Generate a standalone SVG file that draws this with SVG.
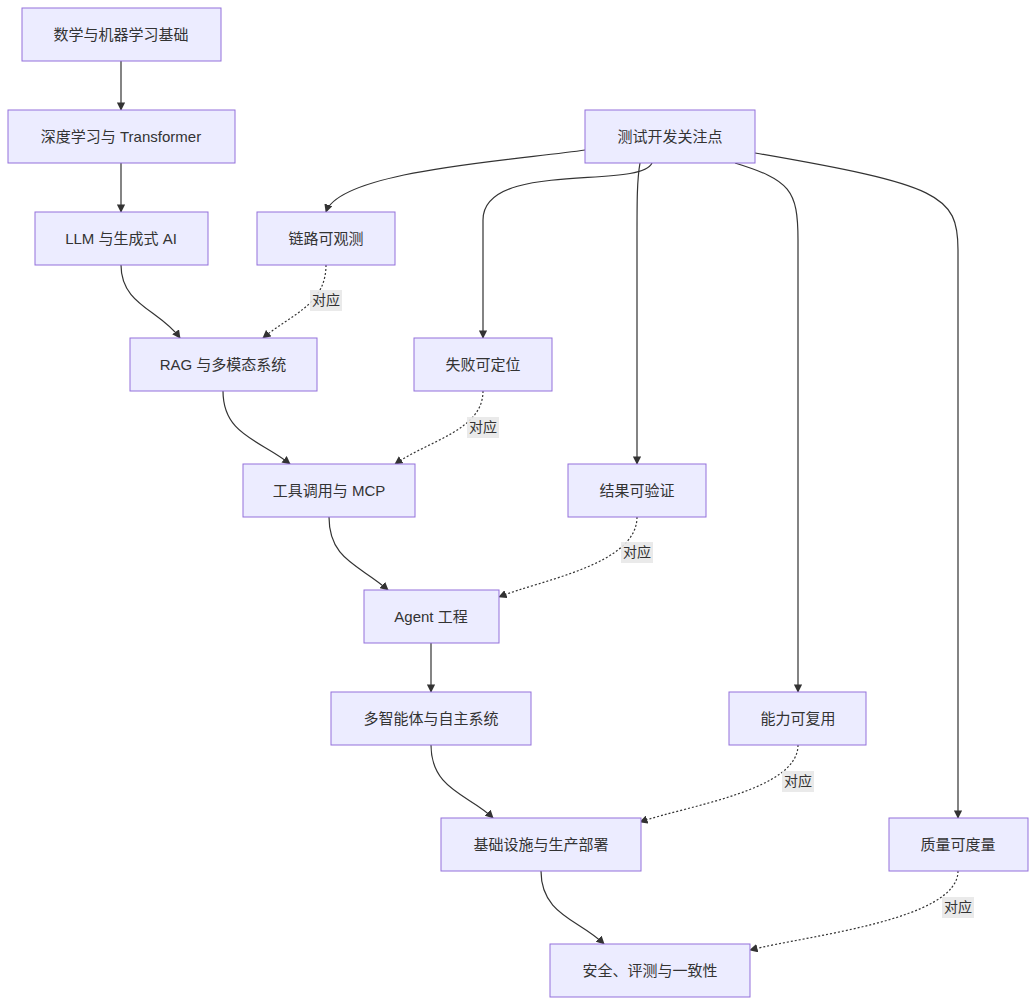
<svg xmlns="http://www.w3.org/2000/svg" width="1036" height="1006" viewBox="0 0 1036 1006">
<style>
.n rect{fill:#ECECFF;stroke:#9370DB;stroke-width:1}
.n text{font-family:"Liberation Sans","Noto Sans CJK SC",sans-serif;font-size:15px;fill:#333;text-anchor:middle;dominant-baseline:central}
.e path{fill:none;stroke:#333;stroke-width:1.2}
.e path.d{stroke-dasharray:2 2}
.l rect{fill:#e8e8e8;opacity:0.9}
.l text{font-family:"Liberation Sans","Noto Sans CJK SC",sans-serif;font-size:14px;fill:#333;text-anchor:middle;dominant-baseline:central}
</style>
<defs><marker id="a" viewBox="0 0 10 10" refX="9" refY="5" markerWidth="7" markerHeight="7" orient="auto"><path d="M0,0L10,5L0,10z" fill="#333"/></marker></defs>
<rect width="1036" height="1006" fill="#fff"/>
<g class="e">
<path d="M121,61V110" marker-end="url(#a)"/>
<path d="M121,163V212" marker-end="url(#a)"/>
<path d="M121,265C121,305 160,310 180,338" marker-end="url(#a)"/>
<path class="d" d="M326,265C326,305 290,315 263,338" marker-end="url(#a)"/>
<path d="M223,391C223,435 260,440 290,464" marker-end="url(#a)"/>
<path class="d" d="M483,391C483,430 430,440 395,464" marker-end="url(#a)"/>
<path d="M329,517C329,560 360,565 388,590" marker-end="url(#a)"/>
<path class="d" d="M637,517C637,565 540,580 499,597" marker-end="url(#a)"/>
<path d="M431,643V692" marker-end="url(#a)"/>
<path d="M431,745C431,790 470,795 493,818" marker-end="url(#a)"/>
<path class="d" d="M798,745C798,790 690,805 640,822" marker-end="url(#a)"/>
<path d="M541,871C541,915 580,920 604,944" marker-end="url(#a)"/>
<path class="d" d="M958,871C958,920 810,935 750,950" marker-end="url(#a)"/>
<path d="M585,150C520,160 340,170 326,212" marker-end="url(#a)"/>
<path d="M652,163C640,190 483,160 483,220V338" marker-end="url(#a)"/>
<path d="M640,163C637,180 637,200 637,240V464" marker-end="url(#a)"/>
<path d="M735,163C790,180 798,190 798,240V692" marker-end="url(#a)"/>
<path d="M755,153C940,185 958,195 958,250V818" marker-end="url(#a)"/>
</g>
<g class="l">
<g><rect x="310" y="290" width="32" height="21"/><text x="326" y="300">对应</text></g>
<g><rect x="467" y="417" width="32" height="21"/><text x="483" y="427">对应</text></g>
<g><rect x="621" y="542" width="32" height="21"/><text x="637" y="552">对应</text></g>
<g><rect x="782" y="771" width="32" height="21"/><text x="798" y="781">对应</text></g>
<g><rect x="942" y="897" width="32" height="21"/><text x="958" y="907">对应</text></g>
</g>
<g id="n1" class="n"><rect x="22" y="8" width="199" height="53"/><text x="121" y="34">数学与机器学习基础</text></g>
<g id="n2" class="n"><rect x="8" y="110" width="227" height="53"/><text x="121" y="136">深度学习与 Transformer</text></g>
<g id="n3" class="n"><rect x="35" y="212" width="173" height="53"/><text x="121" y="238">LLM 与生成式 AI</text></g>
<g id="n4" class="n"><rect x="257" y="212" width="138" height="53"/><text x="326" y="238">链路可观测</text></g>
<g id="n5" class="n"><rect x="585" y="110" width="170" height="53"/><text x="670" y="136">测试开发关注点</text></g>
<g id="n6" class="n"><rect x="130" y="338" width="187" height="53"/><text x="223" y="364">RAG 与多模态系统</text></g>
<g id="n7" class="n"><rect x="414" y="338" width="138" height="53"/><text x="483" y="364">失败可定位</text></g>
<g id="n8" class="n"><rect x="243" y="464" width="172" height="53"/><text x="329" y="490">工具调用与 MCP</text></g>
<g id="n9" class="n"><rect x="568" y="464" width="138" height="53"/><text x="637" y="490">结果可验证</text></g>
<g id="n10" class="n"><rect x="364" y="590" width="135" height="53"/><text x="431" y="616">Agent 工程</text></g>
<g id="n11" class="n"><rect x="331" y="692" width="200" height="53"/><text x="431" y="718">多智能体与自主系统</text></g>
<g id="n12" class="n"><rect x="729" y="692" width="137" height="53"/><text x="798" y="718">能力可复用</text></g>
<g id="n13" class="n"><rect x="441" y="818" width="200" height="53"/><text x="541" y="844">基础设施与生产部署</text></g>
<g id="n14" class="n"><rect x="889" y="818" width="139" height="53"/><text x="958" y="844">质量可度量</text></g>
<g id="n15" class="n"><rect x="550" y="944" width="200" height="53"/><text x="650" y="970">安全、评测与一致性</text></g>
</svg>
